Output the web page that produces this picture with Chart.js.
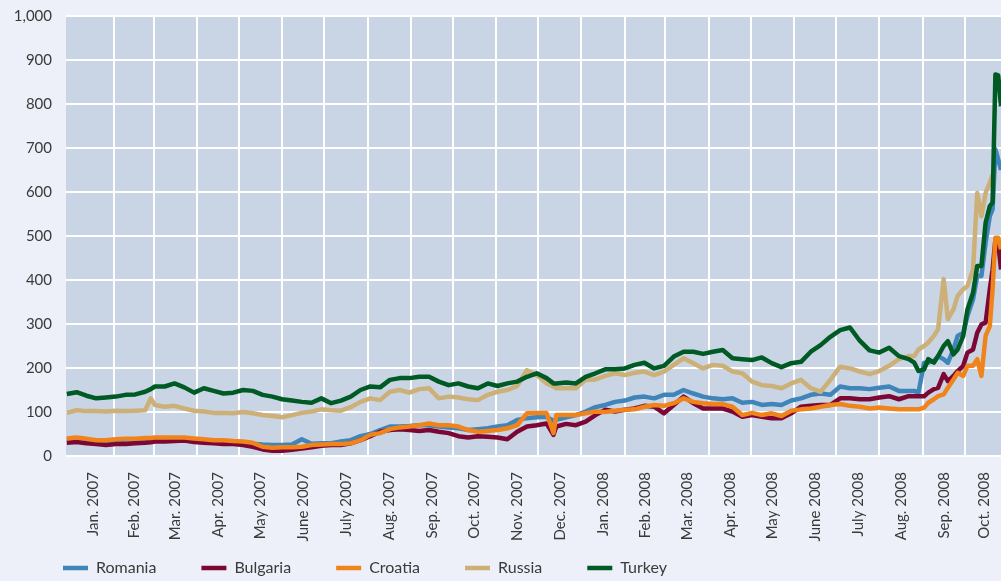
<!DOCTYPE html>
<html>
<head>
<meta charset="utf-8">
<script src="https://cdn.jsdelivr.net/npm/chart.js@4.4.0/dist/chart.umd.min.js"></script>
<style>
  html, body { margin: 0; padding: 0; background: #edf0f8; }
  #wrap { width: 1001px; height: 581px; position: relative; }
</style>
</head>
<body>
<div id="wrap"><canvas id="spreads"></canvas></div>
<script>
// days counted from 1 Jan 2007
const days = [
  -3, 4, 11, 18, 25, 32, 39, 46, 53, 57, 60,
  67, 74, 81, 88, 95, 102, 109, 116, 123, 130,
  137, 144, 151, 158, 165, 172, 179, 186, 193, 200,
  207, 214, 221, 228, 235, 242, 249, 256, 263, 270,
  277, 284, 291, 298, 305, 312, 319, 326, 333, 340, 345,
  347, 354, 361, 368, 375, 382, 389, 396, 403, 410,
  417, 424, 431, 438, 445, 452, 459, 466, 473, 480,
  487, 494, 501, 508, 515, 522, 529, 536, 543, 550,
  557, 564, 571, 578, 585, 592, 599,
  603, 606, 610, 613, 617, 620, 624, 627, 631, 634,
  638, 641, 645, 648, 651, 654, 657, 659, 661, 663, 665
];

const romania = [
  37, 39, 37, 34, 34, 35, 36, 37, 38, 38, 39,
  40, 40, 40, 38, 36, 34, 34, 32, 31, 28,
  26, 25, 25, 26, 38, 28, 29, 29, 33, 36,
  45, 50, 59, 67, 67, 68, 70, 70, 67, 65,
  63, 59, 61, 63, 67, 70, 82, 86, 88, 89, 80,
  82, 88, 93, 101, 111, 116, 123, 126, 133, 135,
  131, 139, 139, 150, 142, 135, 131, 129, 131, 121,
  123, 116, 118, 116, 126, 131, 139, 142, 139, 158,
  154, 154, 152, 155, 158, 148, 148,
  148, 144, 212, 212, 216, 227, 220, 212, 242, 273,
  280, 318, 356, 409, 409, 485, 545, 561, 697, 674, 650
];

const bulgaria = [
  30, 32, 29, 27, 25, 27, 27, 29, 30, 31, 33,
  33, 34, 35, 32, 30, 29, 27, 27, 25, 21,
  15, 12, 12, 14, 17, 20, 23, 25, 25, 29,
  36, 45, 55, 59, 61, 59, 57, 59, 55, 52,
  45, 42, 45, 44, 42, 38, 55, 67, 70, 74, 48,
  67, 73, 70, 78, 93, 105, 101, 105, 108, 114,
  112, 97, 116, 135, 120, 108, 108, 108, 101, 89,
  93, 89, 86, 86, 97, 112, 114, 116, 116, 131,
  131, 129, 129, 133, 136, 129, 136,
  136, 136, 136, 144, 152, 155, 186, 170, 182, 193,
  205, 235, 242, 280, 299, 303, 379, 424, 492, 485, 424
];

const croatia = [
  40, 42, 39, 36, 36, 38, 39, 39, 41, 41, 42,
  42, 42, 42, 40, 38, 36, 36, 34, 33, 30,
  21, 19, 20, 20, 21, 25, 26, 27, 27, 29,
  36, 48, 52, 61, 65, 67, 70, 74, 70, 70,
  67, 59, 55, 57, 59, 63, 70, 97, 98, 98, 52,
  93, 93, 93, 97, 101, 100, 103, 105, 106, 112,
  116, 114, 120, 131, 123, 120, 118, 118, 112, 93,
  98, 93, 97, 91, 103, 106, 108, 112, 116, 118,
  114, 112, 108, 110, 108, 106, 106,
  106, 106, 110, 121, 129, 136, 140, 155, 174, 189,
  182, 205, 205, 220, 182, 273, 295, 379, 496, 496, 470
];

const russia = [
  98, 104, 102, 102, 101, 103, 102, 103, 104, 131, 116,
  112, 114, 108, 103, 101, 98, 98, 97, 100, 97,
  93, 91, 88, 93, 98, 101, 106, 104, 103, 111,
  123, 131, 127, 146, 150, 144, 152, 154, 131, 135,
  133, 129, 127, 139, 146, 150, 159, 195, 184, 165, 158,
  154, 154, 154, 173, 174, 182, 188, 184, 189, 192,
  184, 192, 207, 222, 211, 199, 207, 205, 192, 188,
  169, 161, 159, 154, 165, 173, 154, 146, 173, 203,
  199, 192, 186, 193, 205, 220, 227,
  227, 242, 250, 258, 273, 288, 402, 311, 333, 364,
  379, 386, 424, 598, 545, 598, 621, 640, null, null, null
];

const turkey = [
  141, 145, 137, 131, 133, 135, 139, 140, 146, 152, 158,
  158, 165, 156, 144, 154, 148, 142, 144, 150, 148,
  139, 135, 129, 126, 123, 121, 131, 120, 126, 135,
  150, 158, 156, 173, 177, 177, 180, 180, 169, 161,
  165, 158, 154, 165, 159, 165, 169, 180, 188, 177, 165,
  165, 167, 165, 180, 188, 197, 197, 199, 207, 212,
  199, 205, 226, 237, 237, 232, 237, 241, 222, 220,
  218, 224, 211, 202, 211, 214, 237, 252, 271, 286,
  292, 262, 240, 235, 246, 227, 220,
  212, 193, 197, 220, 212, 227, 250, 261, 231, 242,
  273, 333, 371, 432, 432, 530, 568, 576, 867, 865, 795
];

// month boundaries (grid) and month centres (labels)
const monthStarts = [31, 59, 90, 120, 151, 181, 212, 243, 273, 304, 334,
  365, 396, 425, 456, 486, 517, 547, 578, 609, 639];
const monthMids = [15.5, 45, 74.5, 105, 135.5, 166, 196.5, 227.5, 258, 288.5, 319, 349.5,
  380.5, 410.5, 440.5, 471, 501.5, 532, 562.5, 593.5, 624, 653];
const monthLabels = ['Jan. 2007', 'Feb. 2007', 'Mar. 2007', 'Apr. 2007', 'May 2007', 'June 2007',
  'July 2007', 'Aug. 2007', 'Sep. 2007', 'Oct. 2007', 'Nov. 2007', 'Dec. 2007',
  'Jan. 2008', 'Feb. 2008', 'Mar. 2008', 'Apr. 2008', 'May 2008', 'June 2008',
  'July 2008', 'Aug. 2008', 'Sep. 2008', 'Oct. 2008'];

const X_MIN = -3.6;
const X_MAX = 665;
const textColor = '#3a3a3a';
const tickFont = { family: 'Lato', size: 15 };

// light blue panel behind the plot
const plotBg = {
  id: 'plotBg',
  beforeDraw(chart) {
    const { ctx, chartArea: a } = chart;
    ctx.save();
    ctx.fillStyle = '#c9d5e5';
    ctx.fillRect(a.left, a.top, a.right - a.left, a.bottom - a.top);
    ctx.restore();
  },
};

// legend sits under the axis labels, indented like the plot
const legendSpot = {
  id: 'legendSpot',
  afterLayout(chart) {
    chart.legend.left = 18;
    chart.legend.top = 515;
  },
};

const makeSet = (label, data, color, order) => ({
  label,
  data,
  borderColor: color,
  backgroundColor: color,
  borderWidth: 4.5,
  pointRadius: 0,
  borderJoinStyle: 'round',
  borderCapStyle: 'butt',
  order, // higher order is drawn first
});

new Chart(document.getElementById('spreads'), {
  type: 'line',
  data: {
    labels: days,
    datasets: [
      makeSet('Romania', romania, '#3f85ba', 5),
      makeSet('Bulgaria', bulgaria, '#7c0734', 4),
      makeSet('Croatia', croatia, '#f0841b', 3),
      makeSet('Russia', russia, '#ccb077', 2),
      makeSet('Turkey', turkey, '#005a24', 1),
    ],
  },
  options: {
    responsive: true,
    maintainAspectRatio: false,
    animation: false,
    layout: { padding: { left: 0, top: 16, right: 0, bottom: 0 } },
    plugins: {
      tooltip: { enabled: false },
      legend: {
        position: 'bottom',
        align: 'start',
        maxHeight: 30,
        labels: {
          usePointStyle: true,
          pointStyle: 'line',
          pointStyleWidth: 25,
          padding: 45,
          color: textColor,
          font: { family: 'Lato', size: 16 },
          sort: (a, b) => a.datasetIndex - b.datasetIndex,
        },
      },
    },
    scales: {
      x: {
        type: 'linear',
        min: X_MIN,
        max: X_MAX,
        afterBuildTicks: (s) => { s.ticks = monthStarts.map((v) => ({ value: v })); },
        grid: { color: '#ffffff', lineWidth: 2, drawTicks: false },
        border: { display: false },
        ticks: { display: false },
      },
      xl: {
        type: 'linear',
        position: 'bottom',
        min: X_MIN,
        max: X_MAX,
        afterBuildTicks: (s) => { s.ticks = monthMids.map((v) => ({ value: v })); },
        afterFit: (s) => {
          s.height = 95;
          s.paddingLeft = 0;
          s.paddingRight = 0;
        },
        grid: { display: false, drawTicks: false },
        border: { display: false },
        ticks: {
          autoSkip: false,
          maxRotation: 90,
          minRotation: 90,
          padding: 16,
          color: textColor,
          font: tickFont,
          callback: (v, i) => monthLabels[i],
        },
      },
      y: {
        min: 0,
        max: 1000,
        afterFit: (s) => {
          s.width = 66;
          s.paddingTop = 0;
          s.paddingBottom = 0;
        },
        grid: { color: '#ffffff', lineWidth: 2, drawTicks: false },
        border: { display: false },
        ticks: {
          stepSize: 100,
          padding: 14,
          color: textColor,
          font: tickFont,
          callback: (v) => v.toLocaleString('en-US'),
        },
      },
    },
  },
  plugins: [plotBg, legendSpot],
});
</script>
</body>
</html>
